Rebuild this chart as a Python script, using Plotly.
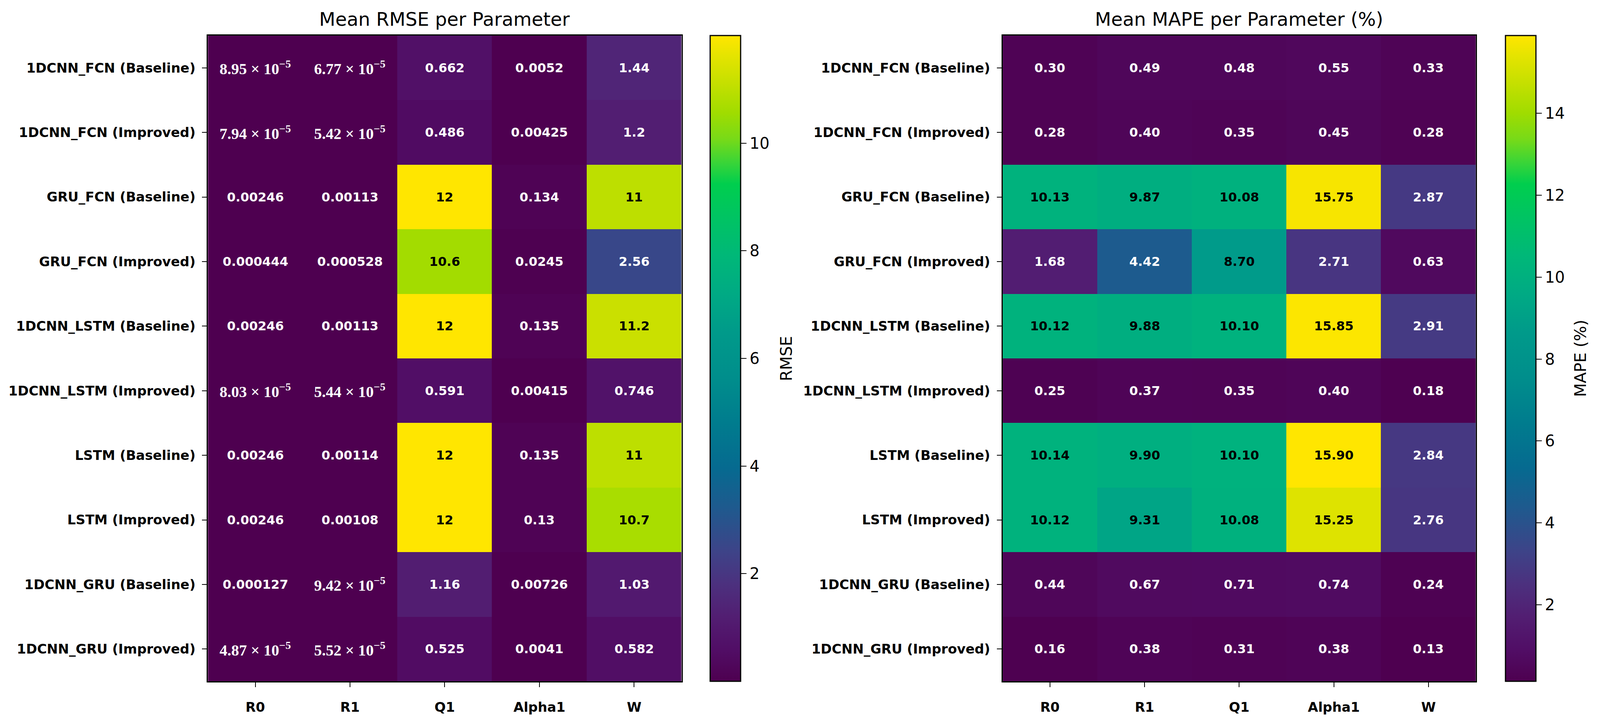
"""Heatmaps of mean RMSE and mean MAPE per parameter for each model."""

import plotly.graph_objects as go

# 模型（行）与参数（列）
models = [
    "1DCNN_FCN (Baseline)",
    "1DCNN_FCN (Improved)",
    "GRU_FCN (Baseline)",
    "GRU_FCN (Improved)",
    "1DCNN_LSTM (Baseline)",
    "1DCNN_LSTM (Improved)",
    "LSTM (Baseline)",
    "LSTM (Improved)",
    "1DCNN_GRU (Baseline)",
    "1DCNN_GRU (Improved)",
]
params = ["R0", "R1", "Q1", "Alpha1", "W"]

# Mean RMSE, one list per parameter (in model order)
rmse_r0 = [8.95e-5, 7.94e-5, 0.00246, 0.000444, 0.00246, 8.03e-5, 0.00246, 0.00246, 0.000127, 4.87e-5]
rmse_r1 = [6.77e-5, 5.42e-5, 0.00113, 0.000528, 0.00113, 5.44e-5, 0.00114, 0.00108, 9.42e-5, 5.52e-5]
rmse_q1 = [0.662, 0.486, 12.0, 10.6, 12.0, 0.591, 12.0, 12.0, 1.16, 0.525]
rmse_alpha1 = [0.0052, 0.00425, 0.134, 0.0245, 0.135, 0.00415, 0.135, 0.13, 0.00726, 0.0041]
rmse_w = [1.44, 1.2, 11.0, 2.56, 11.2, 0.746, 11.0, 10.7, 1.03, 0.582]

# Mean MAPE (%), one list per parameter
mape_r0 = [0.30, 0.28, 10.13, 1.68, 10.12, 0.25, 10.14, 10.12, 0.44, 0.16]
mape_r1 = [0.49, 0.40, 9.87, 4.42, 9.88, 0.37, 9.90, 9.31, 0.67, 0.38]
mape_q1 = [0.48, 0.35, 10.08, 8.70, 10.10, 0.35, 10.10, 10.08, 0.71, 0.31]
mape_alpha1 = [0.55, 0.45, 15.75, 2.71, 15.85, 0.40, 15.90, 15.25, 0.74, 0.38]
mape_w = [0.33, 0.28, 2.87, 0.63, 2.91, 0.18, 2.84, 2.76, 0.24, 0.13]

rmse_ticks = [2, 4, 6, 8, 10]
mape_ticks = [2, 4, 6, 8, 10, 12, 14]

# 近似原图中的 viridis（饱和度偏高）
COLORSCALE = [
    [0.00, "#4e0050"],
    [0.05, "#510e66"],
    [0.10, "#521e72"],
    [0.15, "#4c307e"],
    [0.20, "#3e4388"],
    [0.27, "#1e5a8e"],
    [0.33, "#066a90"],
    [0.40, "#007c8e"],
    [0.47, "#008e8c"],
    [0.54, "#009a8a"],
    [0.60, "#00aa84"],
    [0.66, "#00b878"],
    [0.72, "#00c462"],
    [0.77, "#00ce4e"],
    [0.80, "#34d43a"],
    [0.84, "#78da18"],
    [0.88, "#a0dc00"],
    [0.93, "#c8e000"],
    [0.97, "#e6e400"],
    [1.00, "#ffe600"],
]

W = 4358
PAGE_H = 1839
H = PAGE_H - 16  # 页面有 8px 边距
FONT = "DejaVu Sans"
TOP, BOTTOM = 91 - 8, 1745 - 8  # heatmap top / bottom inside the figure
Y_DOM = [1 - BOTTOM / H, 1 - TOP / H]


def fmt_rmse(v: float) -> str:
    """3 位有效数字；很小的值写成 a × 10^b"""
    if v < 1e-4:
        mant, exp = f"{v:.2e}".split("e")
        return f"{mant} × 10<sup>−{int(exp[1:])}</sup>"
    return f"{v:.3g}"


def fmt_mape(v: float) -> str:
    return f"{v:.2f}"


def add_heatmap(fig, cols, xa, ya, xdom, cbar_x, ticks, fmt, sci):
    # z[row][col]
    z = [list(r) for r in zip(*cols)]
    fig.add_trace(
        go.Heatmap(
            z=z,
            x=params,
            y=models,
            xaxis=xa,
            yaxis=ya,
            colorscale=COLORSCALE,
            hoverinfo="skip",
            colorbar={
                "x": cbar_x,
                "xanchor": "left",
                "y": Y_DOM[0],
                "yanchor": "bottom",
                "len": Y_DOM[1] - Y_DOM[0],
                "lenmode": "fraction",
                "thickness": 78,
                "thicknessmode": "pixels",
                "outlinecolor": "black",
                "outlinewidth": 3,
                "ticks": "outside",
                "ticklen": 14,
                "tickwidth": 2,
                "tickcolor": "black",
                "tickvals": ticks,
                "tickfont": {"family": FONT, "size": 40, "color": "black"},
                "xpad": 0,
                "ypad": 0,
            },
        )
    )

    zmin = min(min(c) for c in cols)
    zmax = max(max(c) for c in cols)
    for j, p in enumerate(params):
        for i, m in enumerate(models):
            v = cols[j][i]
            frac = (v - zmin) / (zmax - zmin)
            color = "black" if frac > 0.5 else "white"
            is_sci = sci and v < 1e-4
            fig.add_annotation(
                x=p,
                y=m,
                xref=xa,
                yref=ya,
                text=fmt(v),
                showarrow=False,
                font={
                    "family": "Liberation Serif" if is_sci else FONT,
                    "size": 40 if is_sci else 32,
                    "color": color,
                    "weight": "bold",
                },
            )

    axis_name = "xaxis" if xa == "x" else "xaxis" + xa[1:]
    yaxis_name = "yaxis" if ya == "y" else "yaxis" + ya[1:]
    axis_common = {
        "showline": True,
        "mirror": True,
        "linecolor": "black",
        "linewidth": 3,
        "ticks": "outside",
        "ticklen": 12,
        "tickwidth": 2,
        "tickcolor": "black",
        "showgrid": False,
        "zeroline": False,
        "automargin": False,
        "tickfont": {"family": FONT, "size": 34, "color": "black", "weight": "bold"},
    }
    fig.update_layout(
        {
            axis_name: {**axis_common, "domain": xdom, "anchor": ya, "ticklabelstandoff": 22},
            yaxis_name: {
                **axis_common,
                "domain": Y_DOM,
                "anchor": xa,
                "autorange": "reversed",
                "ticklabelstandoff": 10,
            },
        }
    )


def main() -> None:
    fig = go.Figure()

    rmse_cols = [rmse_r0, rmse_r1, rmse_q1, rmse_alpha1, rmse_w]
    mape_cols = [mape_r0, mape_r1, mape_q1, mape_alpha1, mape_w]

    left_dom = [560 / W, 1855 / W]
    right_dom = [2733 / W, 4027 / W]

    add_heatmap(fig, rmse_cols, "x", "y", left_dom, 1933 / W, rmse_ticks, fmt_rmse, True)
    add_heatmap(fig, mape_cols, "x2", "y2", right_dom, 4108 / W, mape_ticks, fmt_mape, False)

    # 子图标题
    for dom, title in [
        (left_dom, "Mean RMSE per Parameter"),
        (right_dom, "Mean MAPE per Parameter (%)"),
    ]:
        fig.add_annotation(
            x=(dom[0] + dom[1]) / 2,
            y=Y_DOM[1],
            xref="paper",
            yref="paper",
            xanchor="center",
            yanchor="bottom",
            yshift=12,
            text=title,
            showarrow=False,
            font={"family": FONT, "size": 48, "color": "black"},
        )

    # 色条标题（竖排）
    for cx, label in [(2142 / W, "RMSE"), (4313 / W, "MAPE (%)")]:
        fig.add_annotation(
            x=cx,
            y=(Y_DOM[0] + Y_DOM[1]) / 2,
            xref="paper",
            yref="paper",
            xanchor="center",
            yanchor="middle",
            textangle=-90,
            text=label,
            showarrow=False,
            font={"family": FONT, "size": 41, "color": "black"},
        )

    # 宽度随窗口自适应，避免右侧色条被裁掉
    fig.update_layout(
        autosize=True,
        height=H,
        margin={"l": 0, "r": 0, "t": 0, "b": 0},
        paper_bgcolor="white",
        plot_bgcolor="white",
        showlegend=False,
    )

    fig.write_html("out.html")


if __name__ == "__main__":
    main()
